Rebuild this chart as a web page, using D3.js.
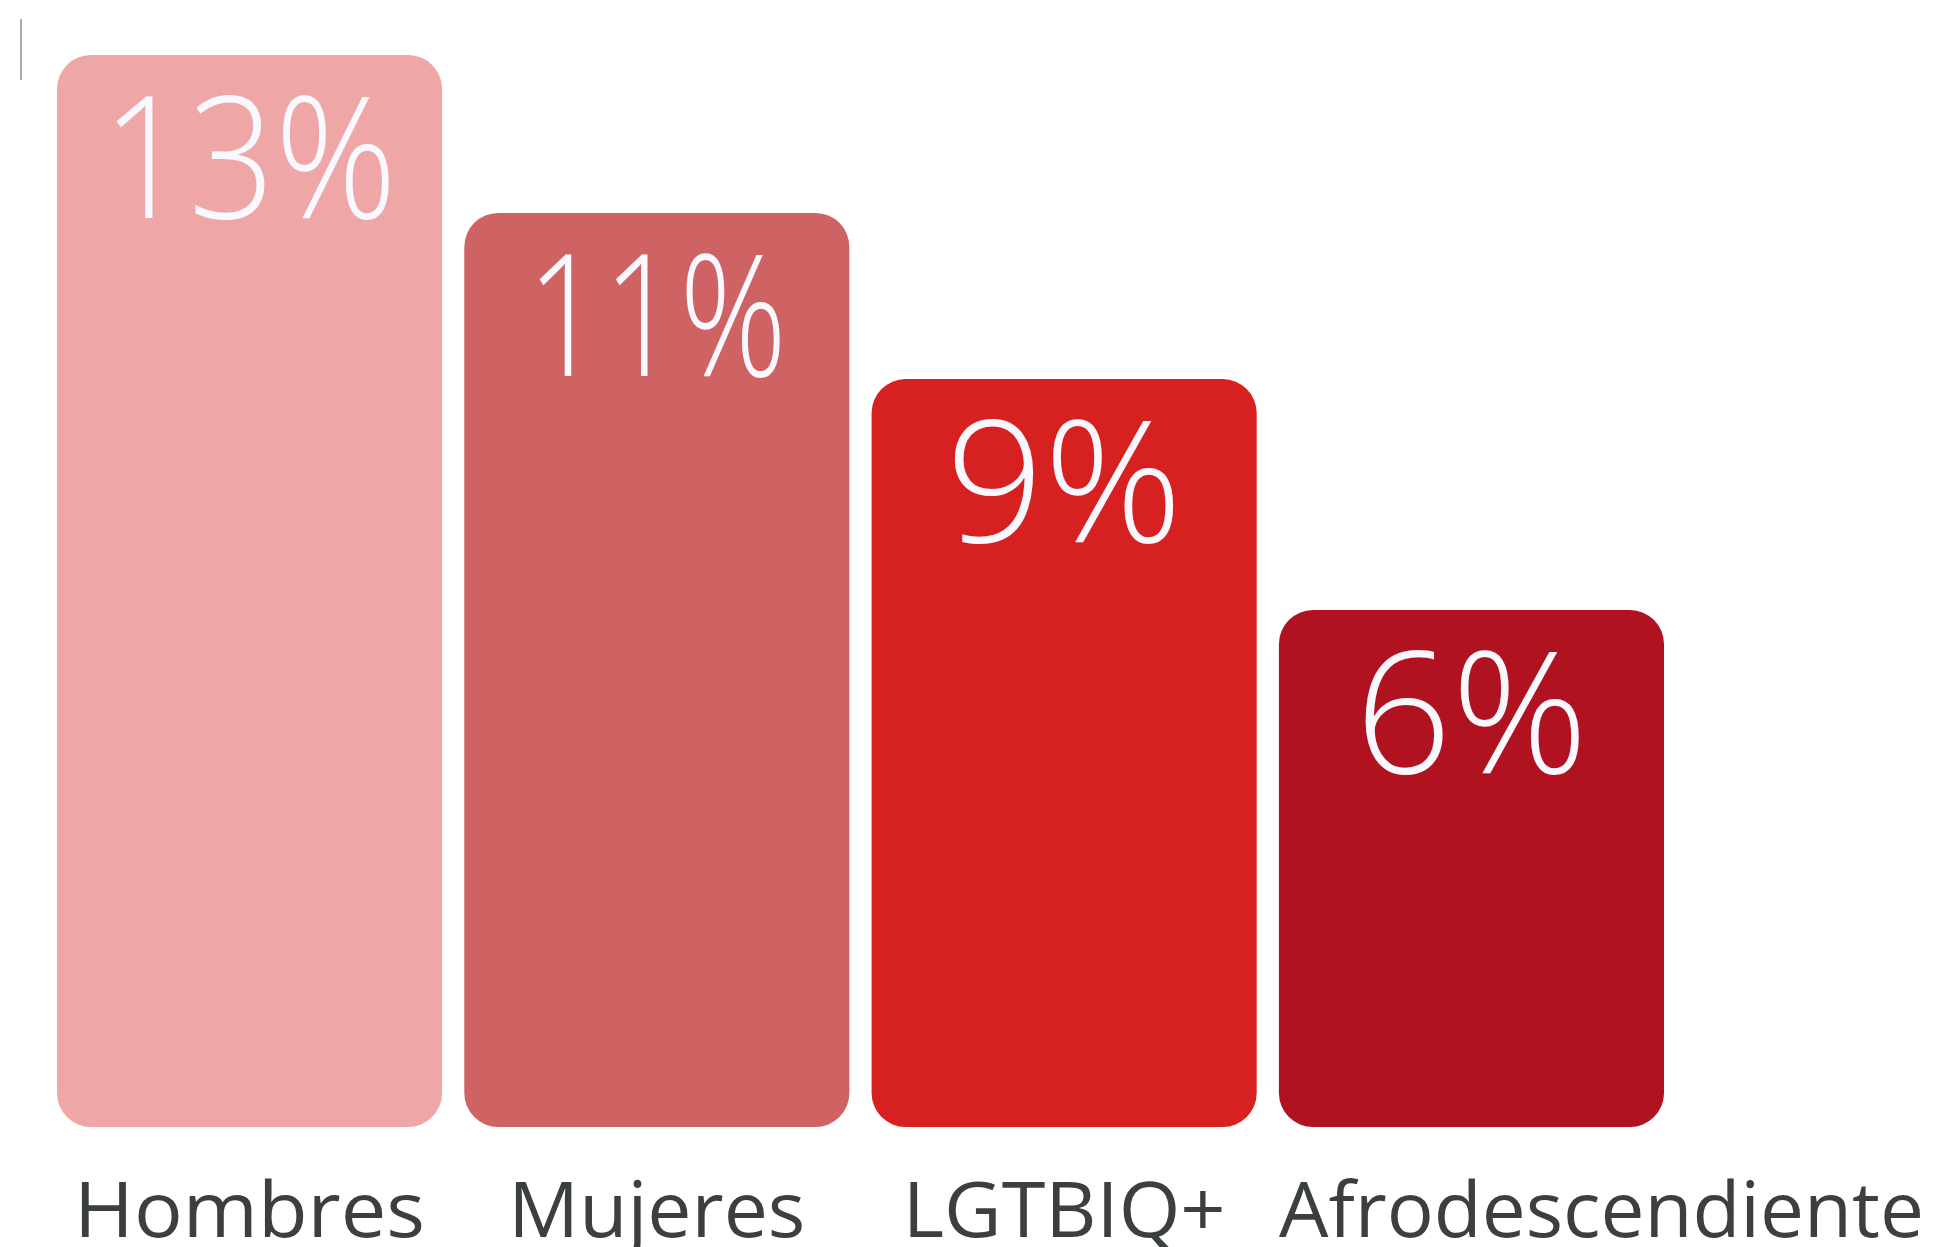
<!DOCTYPE html>
<html>
<head>
<meta charset="utf-8">
<script src="https://cdn.jsdelivr.net/npm/d3@7"></script>
<style>
  html, body { margin: 0; padding: 0; background: #ffffff; }
  svg { display: block; }
</style>
</head>
<body>
<div id="chart"></div>
<script>
// ---- data ----
const categories = ["Hombres", "Mujeres", "LGTBIQ+", "Afrodescendiente"];
const values = [12.9, 11.0, 9.0, 6.22];   // percent
const barColors = ["#EEA6A7", "#CF6363", "#D72020", "#B11220"];

// ---- layout (styling only) ----
const W = 1941, H = 1247;
const valueTextWidths = [295, 260, 237, 233];
const labelTextWidths = [351, 297, 323, 645];

const svg = d3.select("#chart").append("svg").attr("width", W).attr("height", H);

const x = d3.scaleBand().domain(categories).range([57, 1664]).paddingInner(0.0545).paddingOuter(0);
const y = d3.scaleLinear().domain([0, 12.9]).range([1127, 55]);
const fmt = v => d3.format(".0f")(v) + "%";

// small gray tick line at top-left
svg.append("line")
  .attr("x1", 21).attr("x2", 21).attr("y1", 19).attr("y2", 80)
  .attr("stroke", "#AAAAAA").attr("stroke-width", 2);

const r = 34;
function roundedBar(x0, y0, w, h, r) {
  return `M${x0},${y0 + r}A${r},${r} 0 0 1 ${x0 + r},${y0}` +
         `H${x0 + w - r}A${r},${r} 0 0 1 ${x0 + w},${y0 + r}` +
         `V${y0 + h - r}A${r},${r} 0 0 1 ${x0 + w - r},${y0 + h}` +
         `H${x0 + r}A${r},${r} 0 0 1 ${x0},${y0 + h - r}Z`;
}

const g = svg.append("g");
categories.forEach((c, i) => {
  const bx = x(c), bw = x.bandwidth(), by = y(values[i]), bh = y(0) - y(values[i]);
  g.append("path").attr("d", roundedBar(bx, by, bw, bh, r)).attr("fill", barColors[i]);
  const tw = valueTextWidths[i];
  g.append("text")
    .attr("x", bx + bw / 2 - tw / 2).attr("y", by + 163)
    .attr("font-family", "'Open Sans', Lato, sans-serif")
    .attr("font-weight", 300)
    .attr("font-size", 170)
    .attr("textLength", tw)
    .attr("lengthAdjust", "spacingAndGlyphs")
    .attr("fill", "#F8F8FE")
    .text(fmt(values[i]));
});

// category labels: centred under the bar, or starting at the bar's left edge if wider than the bar
const labels = svg.append("g");
categories.forEach((c, i) => {
  const bx = x(c), bw = x.bandwidth();
  const tw = labelTextWidths[i];
  const left = tw > bw ? bx : bx + bw / 2 - tw / 2;
  labels.append("text")
    .attr("x", left)
    .attr("y", 1237)
    .attr("font-family", "'Open Sans', Lato, sans-serif")
    .attr("font-weight", 400)
    .attr("font-size", 76)
    .attr("textLength", tw)
    .attr("lengthAdjust", "spacingAndGlyphs")
    .attr("fill", "#3B3F3F")
    .text(c);
});
</script>
</body>
</html>
